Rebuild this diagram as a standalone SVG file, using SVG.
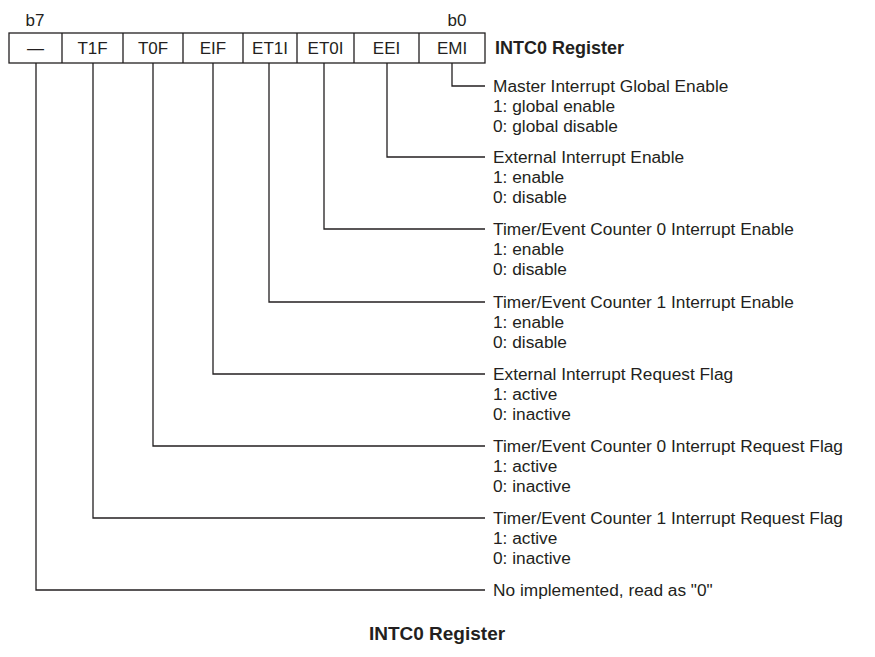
<svg xmlns="http://www.w3.org/2000/svg" width="875" height="657" viewBox="0 0 875 657">
<style>
text{font-family:"Liberation Sans",Arial,sans-serif;fill:#231f20}
.c{font-size:17px;text-anchor:middle}
.d{font-size:17.3px}
.b{font-size:18px;font-weight:bold}
.t{font-size:19px;font-weight:bold;text-anchor:middle}
.box{fill:#fff;stroke:#231f20;stroke-width:1.3}
.ln{fill:none;stroke:#231f20;stroke-width:1.3}
</style>
<rect width="875" height="657" fill="#fff"/>
<text class="c" x="35" y="26">b7</text>
<text class="c" x="457" y="26">b0</text>
<g id="register">
<rect class="box" x="9" y="33" width="476" height="30"/>
<path class="ln" d="M62 33V63M123 33V63M183 33V63M243 33V63M297 33V63M354 33V63M419 33V63"/>
<text class="c" x="35.5" y="54">—</text>
<text class="c" x="92.5" y="54">T1F</text>
<text class="c" x="153" y="54">T0F</text>
<text class="c" x="213" y="54">EIF</text>
<text class="c" x="270" y="54">ET1I</text>
<text class="c" x="325.5" y="54">ET0I</text>
<text class="c" x="386.5" y="54">EEI</text>
<text class="c" x="452" y="54">EMI</text>
<text class="b" x="495" y="54">INTC0 Register</text>
</g>
<g id="connectors">
<path class="ln" d="M452 63V86H485"/>
<path class="ln" d="M387 63V157H485"/>
<path class="ln" d="M324 63V229H485"/>
<path class="ln" d="M269 63V302H485"/>
<path class="ln" d="M213 63V374H485"/>
<path class="ln" d="M153 63V446H485"/>
<path class="ln" d="M93 63V518H485"/>
<path class="ln" d="M36 63V590H485"/>
</g>
<g id="emi"><text class="d" x="493" y="92">Master Interrupt Global Enable</text><text class="d" x="493" y="112">1: global enable</text><text class="d" x="493" y="132">0: global disable</text></g>
<g id="eei"><text class="d" x="493" y="163">External Interrupt Enable</text><text class="d" x="493" y="183">1: enable</text><text class="d" x="493" y="203">0: disable</text></g>
<g id="et0i"><text class="d" x="493" y="235">Timer/Event Counter 0 Interrupt Enable</text><text class="d" x="493" y="255">1: enable</text><text class="d" x="493" y="275">0: disable</text></g>
<g id="et1i"><text class="d" x="493" y="308">Timer/Event Counter 1 Interrupt Enable</text><text class="d" x="493" y="328">1: enable</text><text class="d" x="493" y="348">0: disable</text></g>
<g id="eif"><text class="d" x="493" y="380">External Interrupt Request Flag</text><text class="d" x="493" y="400">1: active</text><text class="d" x="493" y="420">0: inactive</text></g>
<g id="t0f"><text class="d" x="493" y="452">Timer/Event Counter 0 Interrupt Request Flag</text><text class="d" x="493" y="472">1: active</text><text class="d" x="493" y="492">0: inactive</text></g>
<g id="t1f"><text class="d" x="493" y="524">Timer/Event Counter 1 Interrupt Request Flag</text><text class="d" x="493" y="544">1: active</text><text class="d" x="493" y="564">0: inactive</text></g>
<g id="b7"><text class="d" x="493" y="596">No implemented, read as "0"</text></g>
<text class="t" x="437" y="640">INTC0 Register</text>
</svg>
